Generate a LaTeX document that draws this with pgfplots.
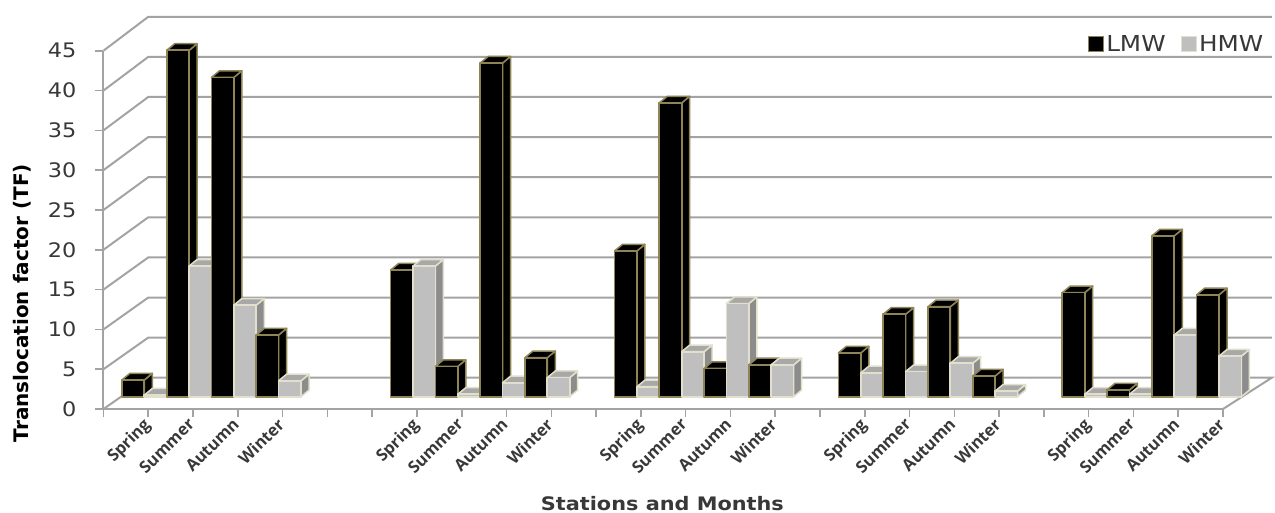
\documentclass[border=0pt]{standalone}
\usepackage{pgfplots}
\usepackage{pgfplotstable}
\pgfplotsset{compat=1.18}
\usepackage{fontspec}
\setmainfont{DejaVu Sans}
\newfontfamily\widefont[FakeStretch=1.12]{DejaVu Sans}
\newfontfamily\monthfont{Open Sans}
\definecolor{gridgray}{HTML}{A3A3A3}
\definecolor{txt}{HTML}{383838}
\definecolor{lmwedge}{HTML}{8F8455}
\definecolor{hmwfill}{HTML}{BFBFBF}
\definecolor{hmwedge}{HTML}{E2E0CC}
\definecolor{hmwside}{HTML}{8C8C8C}
\definecolor{hmwtop}{HTML}{A8A8A8}

% Offsets of the 3-D bars, in axis units
\def\barbase{1.545}
\def\barwidth{0.5}
\def\depthx{0.179}
\def\depthy{0.83}
\def\baroffset{0.411}

% Draws one bar: column, position inside the column, value, front/side/top colours, edge colour
\newcommand{\cube}[7]{%
  \pgfmathsetmacro{\xa}{#1+\baroffset+#2*\barwidth}%
  \pgfmathsetmacro{\xb}{\xa+\barwidth}%
  \pgfmathsetmacro{\xc}{\xb+\depthx}%
  \pgfmathsetmacro{\xd}{\xa+\depthx}%
  \pgfmathsetmacro{\ya}{\barbase}%
  \pgfmathsetmacro{\yb}{\barbase+#3}%
  \pgfmathsetmacro{\yc}{\barbase+\depthy}%
  \pgfmathsetmacro{\yd}{\barbase+#3+\depthy}%
  \edef\doside{\noexpand\addplot[forget plot,fill=#5,draw=#7,line width=1.5pt,line join=round]
    coordinates {(\xb,\ya) (\xc,\yc) (\xc,\yd) (\xb,\yb)} -- cycle;}\doside
  \edef\dotop{\noexpand\addplot[forget plot,fill=#6,draw=#7,line width=1.5pt,line join=round]
    coordinates {(\xa,\yb) (\xb,\yb) (\xc,\yd) (\xd,\yd)} -- cycle;}\dotop
  \edef\dofront{\noexpand\addplot[forget plot,fill=#4,draw=#7,line width=1.7pt,line join=round]
    coordinates {(\xa,\ya) (\xb,\ya) (\xb,\yb) (\xa,\yb)} -- cycle;}\dofront
}
\newcommand{\pair}[3]{%
  \cube{#1}{0}{#2}{black}{black}{black}{lmwedge}%
  \cube{#1}{1}{#3}{hmwfill}{hmwside}{hmwtop}{hmwedge}%
}

\begin{document}
\begin{tikzpicture}
\path[use as bounding box] (0,0) rectangle (1275pt,513pt);
\begin{axis}[
  at={(103.5pt,104pt)}, anchor=south west,
  x=44.78pt, y=7.962pt,
  xmin=0, xmax=25, ymin=0, ymax=45,
  clip=false,
  axis lines=left,
  axis line style={gridgray,line width=2pt,-},
  tick style={gridgray,line width=1.6pt},
  major tick length=8pt,
  tick align=outside,
  xtick={0,...,25}, xticklabels={},
  ytick={0,5,...,45},
  extra x ticks={0.5,1.5,2.5,3.5,6.5,7.5,8.5,9.5,11.5,12.5,13.5,14.5,16.5,17.5,18.5,19.5,21.5,22.5,23.5,24.5},
  extra x tick labels={Spring,Summer,Autumn,Winter,Spring,Summer,Autumn,Winter,Spring,Summer,Autumn,Winter,Spring,Summer,Autumn,Winter,Spring,Summer,Autumn,Winter},
  extra x tick style={
    major tick length=0pt,
    tick label style={rotate=45,anchor=north east,font=\fontsize{16.5}{16.5}\selectfont\monthfont\bfseries,text=txt,xshift=6pt,yshift=-17pt,inner sep=0pt},
  },
  /pgf/number format/assume math mode=true,
  y tick label style={font=\fontsize{20}{20}\selectfont\widefont,text=txt,inner sep=0pt,xshift=-19pt},
  xlabel={Stations and Months},
  ylabel={Translocation factor (TF)},
  xlabel style={at={(axis cs:12.48,-11.9)},anchor=center,font=\fontsize{18.6}{18.6}\selectfont\widefont\bfseries,text=txt},
  ylabel style={at={(axis cs:-1.82,13.3)},anchor=center,rotate=0,font=\fontsize{20}{20}\selectfont\bfseries,text=black},
  legend style={at={(axis cs:21.98,47.2)},anchor=north west,draw=none,fill=none,inner sep=0pt,outer sep=0pt,
    legend columns=2,font=\fontsize{22}{22}\selectfont\widefont,text=txt,
    /tikz/every even column/.append style={column sep=13pt}},
  legend cell align=left,
]
% back wall and floor outline
\addplot[forget plot,gridgray,line width=2pt] coordinates {(0,0) (1,3.93) (26.09,3.93) (25,0)};
\addplot[forget plot,gridgray,line width=2pt] coordinates {(0,5) (1,8.97) (26.09,8.97)};
\addplot[forget plot,gridgray,line width=2pt] coordinates {(0,10) (1,14.0) (26.09,14.0)};
\addplot[forget plot,gridgray,line width=2pt] coordinates {(0,15) (1,19.04) (26.09,19.04)};
\addplot[forget plot,gridgray,line width=2pt] coordinates {(0,20) (1,24.08) (26.09,24.08)};
\addplot[forget plot,gridgray,line width=2pt] coordinates {(0,25) (1,29.11) (26.09,29.11)};
\addplot[forget plot,gridgray,line width=2pt] coordinates {(0,30) (1,34.15) (26.09,34.15)};
\addplot[forget plot,gridgray,line width=2pt] coordinates {(0,35) (1,39.19) (26.09,39.19)};
\addplot[forget plot,gridgray,line width=2pt] coordinates {(0,40) (1,44.22) (26.09,44.22)};
\addplot[forget plot,gridgray,line width=2pt] coordinates {(0,45) (1,49.26) (26.09,49.26)};
% LMW and HMW values per column
\pair{0}{2.1}{0.2}
\pair{1}{43.5}{16.4}
\pair{2}{40.1}{11.5}
\pair{3}{7.75}{2.0}
\pair{6}{15.9}{16.4}
\pair{7}{3.8}{0.3}
\pair{8}{41.9}{1.75}
\pair{9}{4.9}{2.4}
\pair{11}{18.3}{1.25}
\pair{12}{36.9}{5.65}
\pair{13}{3.55}{11.7}
\pair{14}{4.0}{4.0}
\pair{16}{5.5}{3.0}
\pair{17}{10.35}{3.15}
\pair{18}{11.3}{4.2}
\pair{19}{2.6}{0.7}
\pair{21}{13.07}{0.3}
\pair{22}{0.85}{0.3}
\pair{23}{20.2}{7.75}
\pair{24}{12.8}{5.1}
\addlegendimage{legend image code/.code={\draw[fill=black,draw=lmwedge,line width=1.5pt] (-3pt,-7.5pt) rectangle (12pt,7.5pt);}}
\addlegendentry{LMW}
\addlegendimage{legend image code/.code={\draw[fill=hmwfill,draw=hmwedge,line width=1.5pt] (-3pt,-7.5pt) rectangle (12pt,7.5pt);}}
\addlegendentry{HMW}
\end{axis}
\end{tikzpicture}
\end{document}
